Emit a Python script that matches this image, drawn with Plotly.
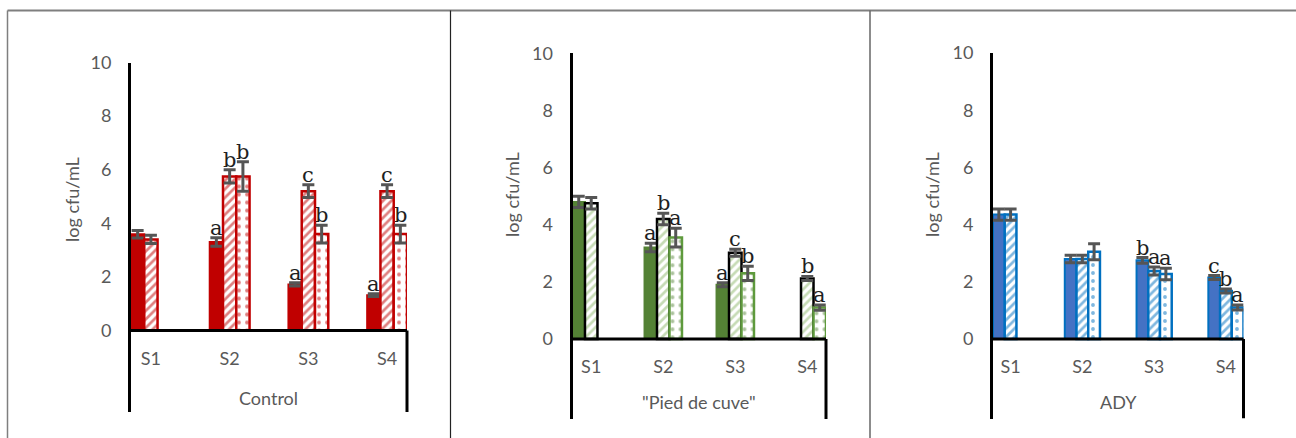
import plotly.graph_objects as go

W, H = 1296, 438

categories = ["S1", "S2", "S3", "S4"]
y_ticks = [0, 2, 4, 6, 8, 10]
panel_titles = ["Control", "\"Pied de cuve\"", "ADY"]
y_title = "log cfu/mL"

# ---- Control ----
ctrl_solid = [3.59, 3.30, 1.72, 1.32]
ctrl_solid_err = [0.14, 0.16, 0.06, 0.05]
ctrl_hatch = [3.40, 5.75, 5.20, 5.20]
ctrl_hatch_err = [0.15, 0.25, 0.24, 0.24]
ctrl_dot = [None, 5.75, 3.60, 3.60]
ctrl_dot_err = [None, 0.55, 0.33, 0.33]
ctrl_solid_lbl = [None, "a", "a", "a"]
ctrl_hatch_lbl = [None, "b", "c", "c"]
ctrl_dot_lbl = [None, "b", "b", "b"]

# ---- "Pied de cuve" ----
pdc_solid = [4.80, 3.20, 1.90, None]
pdc_solid_err = [0.20, 0.15, 0.07, None]
pdc_hatch = [4.75, 4.20, 3.02, 2.12]
pdc_hatch_err = [0.20, 0.20, 0.12, 0.07]
pdc_dot = [None, 3.55, 2.30, 1.10]
pdc_dot_err = [None, 0.33, 0.25, 0.09]
pdc_solid_lbl = [None, "a", "a", None]
pdc_hatch_lbl = [None, "b", "c", "b"]
pdc_dot_lbl = [None, "a", "b", "a"]

# ---- ADY ----
ady_solid = [4.35, 2.80, 2.75, 2.15]
ady_solid_err = [0.20, 0.13, 0.10, 0.07]
ady_hatch = [4.35, 2.80, 2.38, 1.68]
ady_hatch_err = [0.20, 0.13, 0.14, 0.07]
ady_dot = [None, 3.05, 2.27, 1.10]
ady_dot_err = [None, 0.28, 0.20, 0.09]
ady_solid_lbl = [None, None, "b", "c"]
ady_hatch_lbl = [None, None, "a", "b"]
ady_dot_lbl = [None, None, "a", "a"]

panels = [
    dict(series=[(ctrl_solid, ctrl_solid_err, ctrl_solid_lbl),
                 (ctrl_hatch, ctrl_hatch_err, ctrl_hatch_lbl),
                 (ctrl_dot, ctrl_dot_err, ctrl_dot_lbl)],
         styles=[dict(kind="solid", fill="#C00000", line="#C00000"),
                 dict(kind="/", fill="#C00000", line="#C00000"),
                 dict(kind=".", fill="#C00000", line="#C00000")],
         x0=131, x1=407, y10=62.5, y0=330.5, ybot=412, w=0.506,
         title_xy=(268, 398), ylab_xy=(72, 200)),
    dict(series=[(pdc_solid, pdc_solid_err, pdc_solid_lbl),
                 (pdc_hatch, pdc_hatch_err, pdc_hatch_lbl),
                 (pdc_dot, pdc_dot_err, pdc_dot_lbl)],
         styles=[dict(kind="solid", fill="#548235", line="#548235"),
                 dict(kind="/", fill="#8DB86B", line="#000000"),
                 dict(kind=".", fill="#548235", line="#5E9A3C")],
         x0=572.5, x1=826, y10=53.3, y0=339, ybot=419, w=0.52,
         title_xy=(699, 402), ylab_xy=(512, 195)),
    dict(series=[(ady_solid, ady_solid_err, ady_solid_lbl),
                 (ady_hatch, ady_hatch_err, ady_hatch_lbl),
                 (ady_dot, ady_dot_err, ady_dot_lbl)],
         styles=[dict(kind="solid", fill="#4472C4", line="#0070C0"),
                 dict(kind="/", fill="#0070C0", line="#0070C0"),
                 dict(kind=".", fill="#0070C0", line="#0070C0")],
         x0=993, x1=1243.5, y10=53, y0=339, ybot=418.5, w=0.49,
         title_xy=(1118, 402), ylab_xy=(932, 195)),
]

AX_FONT = dict(family="Lato", size=18, color="#595959")
fig = go.Figure()
annotations = []
shapes = []
layout_axes = {}

for p_i, P in enumerate(panels):
    n = "" if p_i == 0 else str(p_i + 1)
    xa, ya = "x" + n, "y" + n
    w = P["w"]
    ppu = (P["y0"] - P["y10"]) / 10.0
    ymin = -(P["ybot"] - P["y0"]) / ppu
    xs = list(range(len(categories)))
    for s_i, ((vals, errs, lbls), st) in enumerate(zip(P["series"], P["styles"])):
        off = -w / 2 + s_i * w / 3
        if st["kind"] == "solid":
            marker = dict(color=st["fill"], line=dict(color=st["line"], width=2))
        elif st["kind"] == "/":
            marker = dict(color="white",
                          pattern=dict(shape="/", fgcolor=st["fill"], bgcolor="white",
                                       size=6, solidity=0.45),
                          line=dict(color=st["line"], width=2.5))
        else:
            marker = dict(color="white",
                          pattern=dict(shape=".", fgcolor=st["fill"], bgcolor="white",
                                       size=8, solidity=0.18),
                          line=dict(color=st["line"], width=2.5))
        fig.add_trace(go.Bar(
            x=xs, y=vals, width=w / 3, offset=off, marker=marker,
            error_y=dict(type="data", array=errs, visible=True, color="#555555",
                         thickness=3, width=6),
            xaxis=xa, yaxis=ya, showlegend=False, hoverinfo="skip"))
        for x, v, e, l in zip(xs, vals, errs, lbls):
            if l is None or v is None:
                continue
            annotations.append(dict(
                x=x + off + w / 6, y=v + (e or 0), xref=xa, yref=ya, text=l,
                showarrow=False, xanchor="center", yanchor="bottom", yshift=-4,
                font=dict(family="DejaVu Serif", size=21, color="#1f1f1f")))
    dom_x = [P["x0"] / W, P["x1"] / W]
    dom_y = [1 - P["ybot"] / H, 1 - P["y10"] / H]
    key = "" if p_i == 0 else str(p_i + 1)
    layout_axes["xaxis" + key] = dict(
        domain=dom_x, range=[-w / 2, len(categories) - 1 + w / 2],
        anchor="free", position=1 - P["y0"] / H, automargin=False,
        tickvals=xs, ticktext=categories, ticks="", showline=False,
        showgrid=False, zeroline=False, tickfont=AX_FONT, ticklabelstandoff=15)
    layout_axes["yaxis" + key] = dict(
        domain=dom_y, range=[ymin, 10.001], anchor=xa, automargin=False,
        tickvals=y_ticks, ticks="", showline=True, linecolor="black", linewidth=3,
        showgrid=False, zeroline=False, tickfont=AX_FONT, ticklabelstandoff=13)
    # zero line and right border of category box
    shapes.append(dict(type="line", xref=xa + " domain", yref=ya, x0=0, x1=1, y0=0, y1=0,
                       line=dict(color="black", width=3)))
    shapes.append(dict(type="line", xref=xa + " domain", yref=ya, x0=1, x1=1, y0=0, y1=ymin,
                       line=dict(color="black", width=3)))
    tx, ty = P["title_xy"]
    annotations.append(dict(x=tx / W, y=1 - ty / H, xref="paper", yref="paper",
                            xanchor="center", yanchor="middle",
                            text=panel_titles[p_i], showarrow=False, font=AX_FONT))
    lx, ly = P["ylab_xy"]
    annotations.append(dict(x=lx / W, y=1 - ly / H, xref="paper", yref="paper",
                            xanchor="center", yanchor="middle",
                            text=y_title, textangle=-90, showarrow=False, font=AX_FONT))

# table frame
shapes += [
    dict(type="line", xref="paper", yref="paper", x0=7.5 / W, x1=1, y0=1 - 10.5 / H, y1=1 - 10.5 / H,
         line=dict(color="#7f7f7f", width=2)),
    dict(type="line", xref="paper", yref="paper", x0=7.5 / W, x1=7.5 / W, y0=1 - 10.5 / H, y1=0,
         line=dict(color="#7f7f7f", width=1.5)),
    dict(type="line", xref="paper", yref="paper", x0=450.5 / W, x1=450.5 / W, y0=1 - 10.5 / H, y1=0,
         line=dict(color="#222222", width=1.2)),
    dict(type="line", xref="paper", yref="paper", x0=870 / W, x1=870 / W, y0=1 - 10.5 / H, y1=0,
         line=dict(color="#666666", width=1.5)),
]

fig.update_layout(
    width=W, height=H, margin=dict(l=0, r=0, t=0, b=0, autoexpand=False),
    paper_bgcolor="white", plot_bgcolor="white", barmode="overlay",
    annotations=annotations, shapes=shapes, **layout_axes)

fig.write_html("out.html")
